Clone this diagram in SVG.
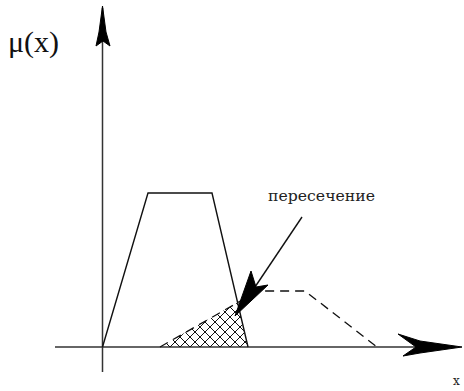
<svg xmlns="http://www.w3.org/2000/svg" width="464" height="391" viewBox="0 0 464 391">
<style>
.ax{stroke:#333;stroke-width:1.5;fill:none}
.ln{stroke:#111;stroke-width:1.4;fill:none;stroke-linejoin:miter}
.dash{stroke:#111;stroke-width:1.3;fill:none;stroke-dasharray:9 6}
.head{fill:#000;stroke:#000;stroke-width:1}
.slab{font-family:"DejaVu Serif","Liberation Serif",serif;fill:#222}
</style>
<defs>
<pattern id="hatch" patternUnits="userSpaceOnUse" width="10" height="10" x="0" y="347">
<path d="M0,0 L10,10 M0,10 L10,0" stroke="#111" stroke-width="1" fill="none"/>
</pattern>
<clipPath id="clipH">
<polygon points="160,347 237.6,302.6 248,347"/>
</clipPath>
</defs>
<rect width="464" height="391" fill="#fff"/>
<g id="axes">
<line class="ax" x1="102.5" y1="8" x2="102.5" y2="372"/>
<polygon class="head" points="102.5,6 106,32 110,46 103,41 96,46 99,32"/>
<line class="ax" x1="55" y1="347" x2="440" y2="347"/>
<polygon class="head" points="398,334 420,341 462,347 420,353 403,356 416,347"/>
<text x="8" y="52" font-family="Liberation Serif, Times New Roman, serif" font-size="30" fill="#111">μ(x)</text>
<text class="slab" x="453" y="385" font-size="12">x</text>
</g>
<g id="set1">
<polyline class="ln" points="102.5,347 148,193 212,193 248,347"/>
</g>
<g id="set2">
<polyline class="dash" points="160,347 258,291 305,291 377,347"/>
</g>
<g id="intersection">
<rect x="155" y="295" width="100" height="55" fill="url(#hatch)" clip-path="url(#clipH)"/>
</g>
<g id="connectors">
<line class="ln" x1="302" y1="217" x2="255" y2="287"/>
<polygon class="head" points="235,316 251,271 256,287 268,285"/>
</g>
<g id="label">
<text class="slab" x="268" y="201" font-size="14" textLength="107" lengthAdjust="spacingAndGlyphs">пересечение</text>
</g>
</svg>
